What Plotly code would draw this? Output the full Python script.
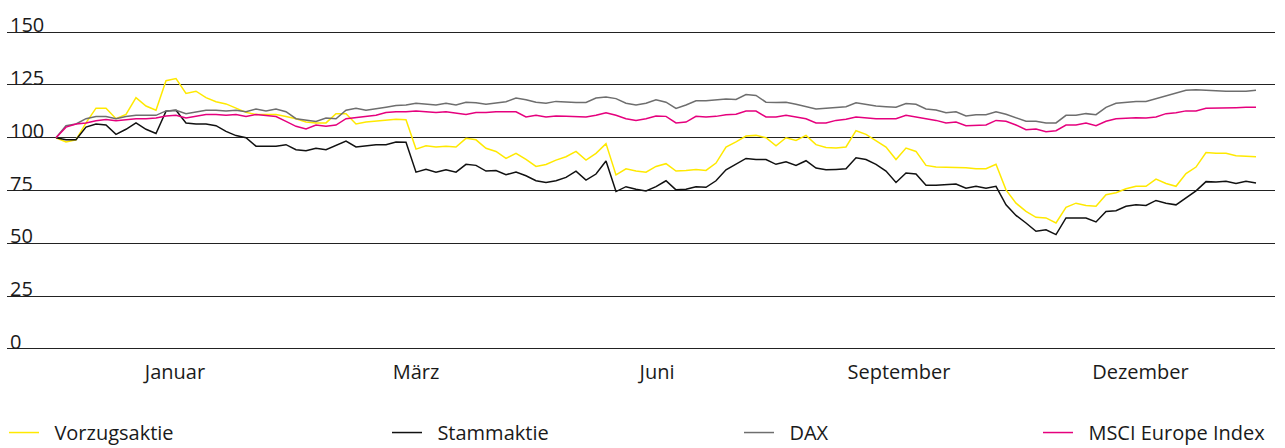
import plotly.graph_objects as go

# Sampled index values (every ~2 trading days), base = 100
vorzug = [100, 98, 99, 107, 114, 114, 109, 111, 119, 115, 113, 127, 128, 121, 122, 119, 117, 116, 114, 112, 111, 111, 111, 110,
          109, 107.4, 107, 107, 111.4, 111.4, 106.5, 107.4, 107.8, 108.2, 108.7, 108.5, 94.6, 96.2, 95.6, 96, 95.6, 99.7, 99, 95, 93.5, 90.2, 92.6, 89.7, 86.4,
          87.3, 89.4, 91, 93.5, 89.4, 92.6, 97.2, 82.4, 85.3, 84.2, 83.7, 86.4, 87.7, 84.2, 84.5, 85, 84.5, 88, 95.6, 98, 100.8, 101.1, 100, 96.2,
          100, 98.7, 101.1, 96.7, 95.4, 95.1, 95.6, 103.3, 101.6, 98.4, 95.6, 89.7, 95.1, 93.5, 86.9, 86.1, 86.1, 86.1, 85.8, 85.3, 85.3, 87.4, 75.3, 69, 65.1,
          62.3, 62, 59.6, 67, 69, 67.9, 67.5, 73, 73.9, 75.8, 77, 77, 80.4, 78.3, 77, 83, 86.1, 93, 92.6, 92.6, 91.5, 91.3, 91]
stamm = [100, 99, 99, 105, 106.5, 106, 101.6, 104, 107, 104, 102, 112.6, 113, 107, 106.5, 106.5, 105.7, 103, 101, 100, 96, 96, 96, 96.7,
         94.3, 93.8, 95, 94.3, 96.2, 98.4, 95.6, 96.2, 96.7, 96.7, 98, 97.9, 83.7, 85, 83.7, 84.8, 83.7, 87.4, 86.9, 84.2, 84.5, 82.5, 83.7, 82, 79.6,
         78.8, 79.6, 81.2, 84.2, 79.9, 82.8, 89, 74.5, 76.8, 75.6, 74.8, 76.8, 79.6, 75.3, 75.6, 76.8, 76.5, 79.6, 84.8, 87.3, 90.2, 89.7, 89.7, 87.4,
         88.6, 86.9, 89.1, 85.6, 84.8, 85, 85.3, 90.5, 89.7, 87.4, 84.2, 78.8, 83.3, 82.8, 77.5, 77.5, 77.8, 78.1, 76.1, 77, 76.1, 77, 68.2, 63.2, 59.6,
         55.7, 56.4, 54.1, 62, 62, 62, 60.1, 65.1, 65.4, 67.5, 68.2, 67.9, 70.3, 69, 68.2, 71.4, 74.8, 79.2, 79, 79.4, 78.3, 79.4, 78.6]
dax = [100, 105.7, 106.5, 109, 110, 110, 109, 110, 110.6, 110.6, 110.6, 112.7, 113, 111.4, 112.3, 113, 113, 112.7, 113, 112.3, 113.6, 112.6, 113.6, 112.3,
       109, 108.2, 107.7, 109.3, 109, 113, 113.9, 113, 113.6, 114.4, 115.2, 115.5, 116.3, 116, 115.5, 116.3, 115.5, 116.8, 116.5, 115.8, 116.3, 117, 118.8, 118, 116.8,
       116.3, 117.2, 116.8, 116.7, 116.7, 118.8, 119.3, 118.5, 116.3, 115.5, 116.3, 118, 116.8, 113.9, 115.5, 117.5, 117.5, 117.8, 118.3, 118.1, 120.4, 120, 116.8, 116.7,
       116.8, 115.8, 114.7, 113.6, 113.9, 114.2, 114.7, 116.5, 115.8, 115, 114.7, 114.4, 116.2, 115.8, 113.6, 113.1, 111.8, 112.3, 110.3, 110.9, 110.9, 112.3, 111.1, 109.5, 107.8,
       107.8, 107, 107, 110.6, 110.6, 111.4, 110.9, 114.4, 116.3, 116.7, 117.2, 117.2, 118.5, 119.6, 121.2, 122.5, 122.7, 122.5, 122, 122, 122, 122, 122.5]
msci = [100, 105, 106.5, 107, 108, 108.6, 108, 108.6, 109, 109, 109.3, 110.3, 110.6, 109.3, 110.3, 111, 111, 110.6, 111, 110, 111, 110.6, 110, 107.7,
        105.4, 104.1, 106, 105.4, 106, 109, 109.5, 109.8, 110.6, 111.9, 112.3, 112.3, 112.6, 112.3, 111.9, 112.3, 111.8, 111, 111.9, 111.9, 112.3, 112.3, 112.3, 109.8, 110.6,
        109.8, 110.3, 110.1, 109.8, 109.8, 110.6, 111.8, 110.6, 109, 108.2, 109, 110.3, 110.1, 107, 107.4, 110.1, 109.8, 110.1, 110.9, 111.1, 112.6, 112.6, 109.8, 109.8,
        110.6, 109.8, 109, 107, 107, 108.2, 108.7, 109.8, 109.3, 109, 109, 109, 110.6, 109.8, 109, 108.2, 107, 107.4, 105.7, 106, 106, 108.2, 107.8, 106, 103.8,
        104.1, 102.8, 103.3, 106, 106, 106.9, 105.7, 107.8, 109, 109.2, 109.5, 109.3, 109.8, 111.4, 111.8, 112.7, 112.7, 113.9, 113.9, 114.2, 114.2, 114.4, 114.4]

x_index = list(range(len(vorzug)))

series_names = ["Vorzugsaktie", "Stammaktie", "DAX", "MSCI Europe Index"]
month_ticks = [11.9, 36.0, 60.1, 84.3, 108.45]
month_labels = ["Januar", "März", "Juni", "September", "Dezember"]
y_ticks = [0, 25, 50, 75, 100, 125, 150]

colors = ["#FFE900", "#111111", "#6E6E6E", "#E5007D"]
FONT = "Open Sans"
TXT = "#1a1a1a"
GAP = "\u00a0\u00a0"

fig = go.Figure()
legends = ["legend", "legend2", "legend3", "legend4"]
for name, vals, col, lg in zip(series_names, [vorzug, stamm, dax, msci], colors, legends):
    fig.add_trace(go.Scatter(x=x_index, y=vals, mode="lines", name=GAP + name,
                             line=dict(color=col, width=1.5), legend=lg))

W, L, R = 1285, 7, 10
pw = W - L - R
legend_px = [4, 387, 739, 1038]
leg_common = dict(orientation="h", yanchor="middle", y=-0.254, xanchor="left",
                  font=dict(family=FONT, size=20, color=TXT),
                  bgcolor="rgba(0,0,0,0)", itemwidth=30)
layout_legends = {}
for lg, px in zip(legends, legend_px):
    layout_legends[lg] = dict(leg_common, x=(px - L) / pw)

fig.update_layout(
    width=W, height=448,
    margin=dict(l=L, r=R, t=30, b=97, autoexpand=False),
    paper_bgcolor="white", plot_bgcolor="white",
    showlegend=True,
    font=dict(family=FONT, size=20, color=TXT),
    **layout_legends,
)
fig.update_xaxes(range=[-4.9, 121.9], tickvals=month_ticks, ticktext=month_labels,
                 showgrid=False, zeroline=False, showline=False, ticks="",
                 ticklabelstandoff=7,
                 tickfont=dict(family=FONT, size=20, color=TXT))
fig.update_yaxes(range=[-1, 151], tickvals=y_ticks, ticklabelposition="inside top",
                 ticklabeloverflow="allow", ticklabelshift=7,
                 showgrid=True, gridcolor="#222222", gridwidth=1, zeroline=False,
                 showline=False, ticks="",
                 tickfont=dict(family=FONT, size=20, color=TXT))

fig.write_html("out.html", config={"displayModeBar": False},
               post_script="document.body.style.margin='0';document.body.style.overflow='hidden';")
